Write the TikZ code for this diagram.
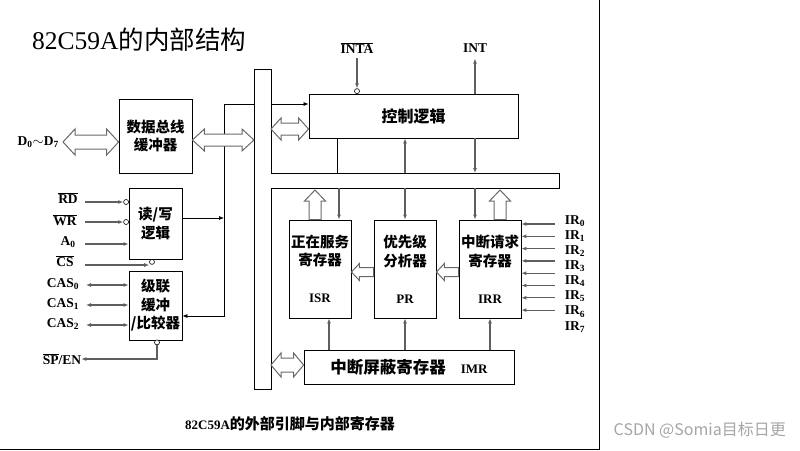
\documentclass[tikz,border=0pt]{standalone}
\usepackage{fontspec}
\setmainfont{Liberation Serif}
\newfontfamily\cjk{Noto Sans CJK SC}
\usetikzlibrary{calc,arrows.meta}
\definecolor{wireGray}{RGB}{95,95,95}
\definecolor{hollowGray}{RGB}{105,105,105}
\definecolor{markGray}{RGB}{165,165,165}
\newcommand{\LatTag}[1]{{\rmfamily\fontsize{13}{15}\selectfont #1}}
% #1,#2 tips, #3 head length, #4 half head, #5 half shaft
\newcommand{\HollowTwo}[5]{%
  \coordinate (hA) at ($(#1)!#3!(#2)$);
  \coordinate (hB) at ($(#2)!#3!(#1)$);
  \draw[hollow] (#1) -- ($(hA)!#4!90:(#2)$) -- ($(hA)!#5!90:(#2)$) -- ($(hB)!#5!-90:(#1)$) -- ($(hB)!#4!-90:(#1)$) -- (#2)
    -- ($(hB)!#4!90:(#1)$) -- ($(hB)!#5!90:(#1)$) -- ($(hA)!#5!-90:(#2)$) -- ($(hA)!#4!-90:(#2)$) -- cycle;}
% #1 tail, #2 tip
\newcommand{\HollowOne}[5]{%
  \coordinate (hA) at ($(#2)!#3!(#1)$);
  \draw[hollow] (#2) -- ($(hA)!#4!90:(#1)$) -- ($(hA)!#5!90:(#1)$) -- ($(#1)!#5!-90:(#2)$)
    -- ($(#1)!#5!90:(#2)$) -- ($(hA)!#5!-90:(#1)$) -- ($(hA)!#4!-90:(#1)$) -- cycle;}
\tikzset{
  blockbox/.style={draw,line width=0.8pt,fill=white,align=center,inner sep=0pt,font=\cjk\bfseries\fontsize{14.5}{18.5}\selectfont},
  pinlabel/.style={inner sep=0pt,font=\bfseries\fontsize{13.5}{14}\selectfont},
  endtip/.style={-{Latex[length=5pt,width=4pt]}},
  sig/.style={draw=wireGray,line width=1.2pt,endtip},
  wire/.style={draw=black,line width=0.7pt},
  negdot/.style={circle,draw,line width=0.6pt,fill=white,inner sep=0pt,minimum size=5pt},
  hollow/.style={draw=hollowGray,line width=1pt,fill=white,line join=miter}
}

\begin{document}
\begin{tikzpicture}[x=1pt,y=-1pt]
\useasboundingbox (0,0) rectangle (800,450);
\node[anchor=west,inner sep=0pt,font=\fontsize{25.5}{27}\selectfont] (title) at (32,40) {82C59A{\cjk 的内部结构}};

\draw[wire,fill=white] (254,69) coordinate (vbL) -- (271,69) coordinate (vbR) -- (271,173) -- (559,173) coordinate (hbT)
  -- (559,188) coordinate (hbB) -- (271,188) -- (271,389) -- (254,389) -- cycle;

\node[blockbox,minimum width=73,minimum height=74] (buf) at (155.5,136) {数据总线\\缓冲器};
\node[blockbox,minimum width=53,minimum height=71] (rw) at (155.5,223.5) {读/写\\逻辑};
\node[blockbox,minimum width=53,minimum height=69] (cas) at (155.5,305.5) {级联\\缓冲\\/比较器};
\node[blockbox,minimum width=209,minimum height=44,font=\cjk\bfseries\fontsize{16}{18}\selectfont] (ctrl) at (413.5,116) {控制逻辑};
\node[blockbox,minimum width=62,minimum height=98] (isr) at (320,269) {正在服务\\寄存器\\[18.5pt]\LatTag{ISR}};
\node[blockbox,minimum width=62,minimum height=98] (pr) at (405,269) {优先级\\分析器\\[18.5pt]\LatTag{PR}};
\node[blockbox,minimum width=62,minimum height=98] (irr) at (490,269) {中断请求\\寄存器\\[18.5pt]\LatTag{IRR}};
\node[blockbox,minimum width=210,minimum height=34,font=\cjk\bfseries\fontsize{16.5}{18}\selectfont] (imr) at (409,367) {中断屏蔽寄存器\hspace{15pt}\LatTag{IMR}};

% data bus side
\node[pinlabel,anchor=east] (dLab) at (59,142) {D\textsubscript{0}$\sim$D\textsubscript{7}};
\coordinate (dTip) at (63,142);
\coordinate (bufW) at (buf.west |- dTip);
\coordinate (bufE) at ([yshift=-4]buf.east);
\coordinate (busW) at (vbL |- bufE);
\coordinate (tap) at (224,104);
\draw[wire,endtip] (vbL |- tap) -- (tap) |- ([yshift=-10.5]cas.east);
\draw[wire,endtip] ([yshift=5.5]rw.east) -- ([yshift=5.5]rw.east -| tap);
\HollowTwo{dTip}{bufW}{12pt}{13pt}{7pt}
\HollowTwo{bufE}{busW}{12pt}{11pt}{6pt}

\node[pinlabel] (rdLab) at (68,198) {$\overline{\mbox{RD}}$};
\node[pinlabel] (wrLab) at (65,220) {$\overline{\mbox{WR}}$};
\node[pinlabel] (aLab) at (68,242) {A\textsubscript{0}};
\node[pinlabel] (csLab) at (65,261) {$\overline{\mbox{CS}}$};
\coordinate (rdS) at (85,202);
\coordinate (wrS) at (85,222);
\coordinate (aS) at (85,244);
\coordinate (csS) at (85,265);
\node[negdot] (rdDot) at ([xshift=-2.5]rw.west |- rdS) {};
\node[negdot] (wrDot) at ([xshift=-2.5]rw.west |- wrS) {};
\node[negdot] (csDot) at ([xshift=-3.5,yshift=-2.5]rw.south) {};
\draw[sig] (rdS) -- (rdDot.west);
\draw[sig] (wrS) -- (wrDot.west);
\draw[sig] (aS) -- (aS -| rw.west);
\draw[sig] (csS) -- (csS -| csDot.west);
\foreach \i in {0,1,2}{
  \node[pinlabel] (casLab\i) at (63,284+20*\i) {CAS\textsubscript{\i}};
  \coordinate (casS\i) at (86,285+20*\i);
  \draw[sig,{Latex[length=5pt,width=4pt]}-{Latex[length=5pt,width=4pt]}] (casS\i) -- (casS\i -| cas.west);
}
\node[negdot] (spDot) at ([xshift=1.5,yshift=-2]cas.south) {};
\node[pinlabel] (spLab) at (62,359) {$\overline{\mbox{SP}}$/EN};
\draw[sig] (spDot.south) |- (spLab.east);

% control logic
\coordinate (ctrlIn) at ([yshift=12]ctrl.west);
\draw[wire,endtip] (vbR |- ctrlIn) -- (ctrlIn);
\coordinate (ctrlDb) at ([yshift=-13]ctrl.west);
\coordinate (busC) at (vbR |- ctrlDb);
\HollowTwo{busC}{ctrlDb}{10pt}{11pt}{6pt}
\coordinate (ctrlTap) at ([xshift=-76.5]ctrl.south);
\draw[wire] (ctrlTap) -- (ctrlTap |- hbT);
\node[pinlabel] (intaLab) at (357,48) {$\overline{\mbox{INTA}}$};
\node[pinlabel] (intLab) at (475,48) {INT};
\node[negdot] (intaDot) at ([yshift=2.5]ctrl.north -| intaLab) {};
\draw[sig,shorten <=4pt] (intaLab.south) -- (intaDot.north);
\draw[sig,shorten >=6pt] (ctrl.north -| intLab) -- (intLab.south);
\draw[sig] (ctrl.south -| intLab) -- (hbT -| intLab);
\draw[sig] (hbT -| pr.north) -- (ctrl.south -| pr.north);

% registers
\coordinate (isrIn) at ([xshift=19]isr.north);
\coordinate (irrIn) at ([xshift=-15]irr.north);
\draw[sig] (hbB -| isrIn) -- (isrIn);
\draw[sig] (hbB -| pr.north) -- (pr.north);
\draw[sig] (hbB -| irrIn) -- (irrIn);
\coordinate (isrUp) at ([xshift=-5]isr.north);
\coordinate (isrTop) at ([yshift=-2]isrUp |- hbB);
\HollowOne{isrUp}{isrTop}{11pt}{10.5pt}{6pt}
\coordinate (irrUp) at ([xshift=10]irr.north);
\coordinate (irrTop) at ([yshift=-2]irrUp |- hbB);
\HollowOne{irrUp}{irrTop}{11pt}{10.5pt}{6pt}
\coordinate (isrOut) at ([xshift=9]isr.south);
\draw[sig] (imr.north -| isrOut) -- (isrOut);
\draw[sig] (imr.north -| pr.south) -- (pr.south);
\draw[sig] (imr.north -| irr.south) -- (irr.south);
\coordinate (prL) at ([yshift=-3]pr.west);
\coordinate (isrR) at (isr.east |- prL);
\HollowOne{prL}{isrR}{8pt}{8.5pt}{4.5pt}
\coordinate (irrL) at ([yshift=-3]irr.west);
\coordinate (prR) at (pr.east |- irrL);
\HollowOne{irrL}{prR}{8pt}{8.5pt}{4.5pt}
\coordinate (imrW) at ([yshift=2]imr.west);
\coordinate (busI) at (vbR |- imrW);
\HollowTwo{busI}{imrW}{10pt}{12pt}{7pt}
\foreach \i in {0,...,7}{
  \coordinate (irS\i) at (555,224+12.3*\i);
  \draw[sig] (irS\i) -- (irS\i -| irr.east);
  \node[pinlabel] (irLab\i) at (575,221+15.1*\i) {IR\textsubscript{\i}};
}

\draw[line width=0.8pt] (599,0) -- (599,449) -- (0,449);
\node[anchor=west,inner sep=0pt] (caption) at (185,424) {{\bfseries\fontsize{13}{15}\selectfont 82C59A}{\cjk\bfseries\fontsize{15}{16}\selectfont 的外部引脚与内部寄存器}};
\node[anchor=east,inner sep=0pt,text=markGray,font=\cjk\fontsize{16}{18}\selectfont] (mark) at (786,430) {CSDN @Somia目标日更};
\end{tikzpicture}
\end{document}
